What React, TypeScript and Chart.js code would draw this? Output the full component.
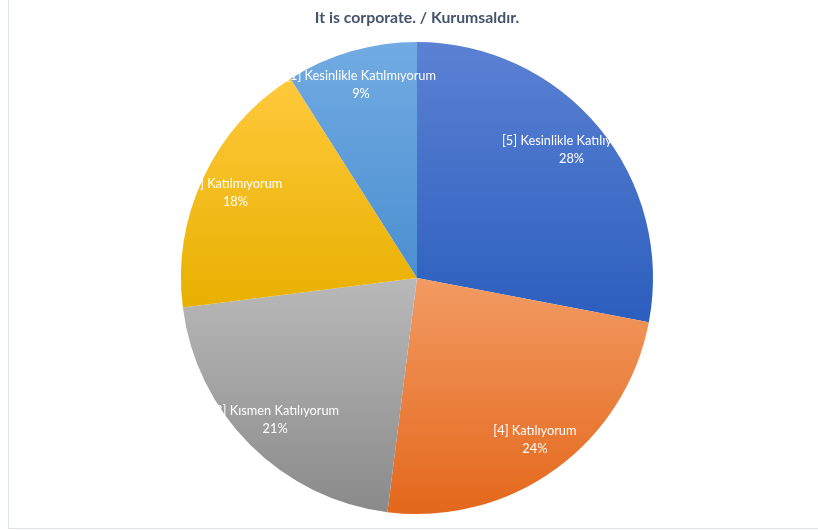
import React, { useEffect, useRef } from "react";
import { Chart, registerables } from "chart.js";

Chart.register(...registerables);

const TITLE = "It is corporate. / Kurumsaldır.";
const categories = [
  "[5] Kesinlikle Katılıyorum",
  "[4] Katılıyorum",
  "[3] Kısmen Katılıyorum",
  "[2] Katılmıyorum",
  "[1] Kesinlikle Katılmıyorum",
];
const values = [28, 24, 21, 18, 9];
const topColors = ["#5b81d3", "#f29b63", "#b9b9b9", "#ffc93c", "#72abe3"];
const bottomColors = ["#2c5ebe", "#e4671b", "#8a8a8a", "#e8b000", "#4b8fd0"];

function sliceGradient(ctx: any) {
  const chart = ctx.chart;
  const area = chart.chartArea;
  const i = ctx.dataIndex;
  if (!area || i === undefined) return topColors[i ?? 0];
  const cx = (area.left + area.right) / 2;
  const cy = (area.top + area.bottom) / 2;
  const r = Math.min(area.right - area.left, area.bottom - area.top) / 2;
  const total = values.reduce((a, b) => a + b, 0);
  let cum = 0;
  for (let k = 0; k < i; k++) cum += values[k];
  const a0 = -Math.PI / 2 + (cum / total) * 2 * Math.PI;
  const a1 = -Math.PI / 2 + ((cum + values[i]) / total) * 2 * Math.PI;
  const ys = [cy, cy + r * Math.sin(a0), cy + r * Math.sin(a1)];
  const inRange = (a: number) => {
    for (let t = -4; t <= 4; t++) {
      const x = a + t * 2 * Math.PI;
      if (x >= a0 && x <= a1) return true;
    }
    return false;
  };
  if (inRange(-Math.PI / 2)) ys.push(cy - r);
  if (inRange(Math.PI / 2)) ys.push(cy + r);
  const y0 = Math.min(...ys);
  const y1 = Math.max(...ys);
  const g = chart.ctx.createLinearGradient(0, y0, 0, y1);
  g.addColorStop(0, topColors[i]);
  g.addColorStop(1, bottomColors[i]);
  return g;
}

const labelPlugin = {
  id: "sliceLabels",
  afterDatasetsDraw(chart: any) {
    const meta = chart.getDatasetMeta(0);
    const ctx = chart.ctx;
    const total = values.reduce((a, b) => a + b, 0);
    ctx.save();
    ctx.fillStyle = "#ffffff";
    ctx.font = "12.8px Lato";
    ctx.textAlign = "center";
    ctx.textBaseline = "middle";
    meta.data.forEach((arc: any, i: number) => {
      const p = arc.getProps(["x", "y", "startAngle", "endAngle", "outerRadius"], true);
      const mid = (p.startAngle + p.endAngle) / 2;
      const rr = p.outerRadius * 0.85;
      const x = p.x + rr * Math.cos(mid);
      const y = p.y + rr * Math.sin(mid);
      const pct = Math.round((values[i] / total) * 100) + "%";
      ctx.fillText(categories[i], x, y - 9);
      ctx.fillText(pct, x, y + 9);
    });
    ctx.restore();
  },
};

export default function App() {
  const ref = useRef<HTMLCanvasElement | null>(null);
  useEffect(() => {
    if (!ref.current) return;
    const chart = new Chart(ref.current, {
      type: "pie",
      data: {
        labels: categories,
        datasets: [
          {
            data: values,
            backgroundColor: sliceGradient as any,
            borderWidth: 0,
          },
        ],
      },
      options: {
        responsive: false,
        animation: false,
        layout: { padding: { top: 0, bottom: 16, left: 0, right: 0 } },
        plugins: {
          legend: { display: false },
          tooltip: { enabled: false },
          title: {
            display: true,
            text: TITLE,
            color: "#44546a",
            font: { family: "Lato", size: 15.8, weight: "bold" },
            padding: { top: 8.5, bottom: 14.5 },
          },
        },
      },
      plugins: [labelPlugin],
    });
    return () => chart.destroy();
  }, []);
  return (
    <div
      style={{
        position: "fixed",
        left: 0,
        top: 0,
        width: 818,
        height: 530,
        overflow: "hidden",
        background: "#ffffff",
      }}
    >
      <div
        style={{
          position: "absolute",
          left: 8,
          top: -2,
          width: 830,
          height: 531,
          boxSizing: "border-box",
          border: "1px solid #dde2ea",
        }}
      />
      <canvas
        ref={ref}
        width={834}
        height={530}
        style={{ position: "absolute", left: 0, top: 0, width: 834, height: 530 }}
      />
    </div>
  );
}
